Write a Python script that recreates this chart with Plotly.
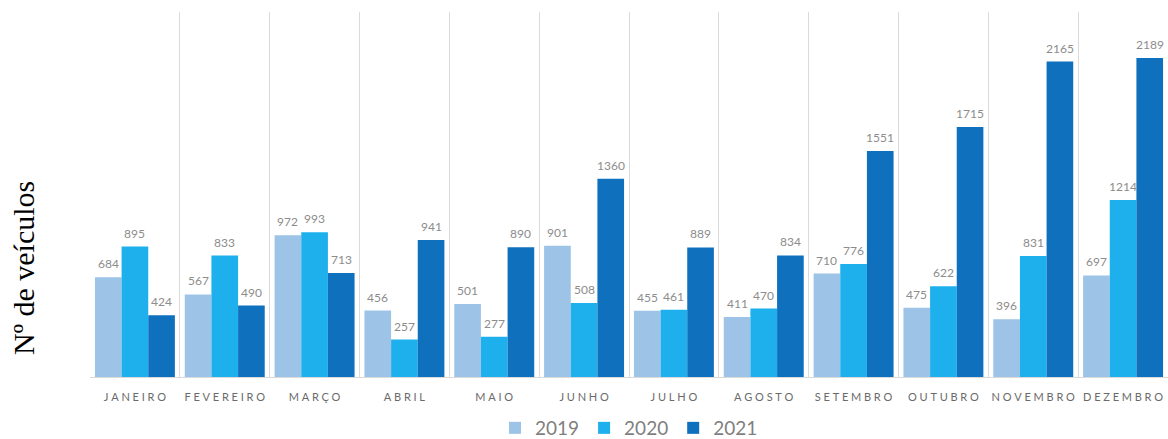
import plotly.graph_objects as go

# Monthly vehicle counts per year
months = ["JANEIRO", "FEVEREIRO", "MARÇO", "ABRIL", "MAIO", "JUNHO",
          "JULHO", "AGOSTO", "SETEMBRO", "OUTUBRO", "NOVEMBRO", "DEZEMBRO"]
v2019 = [684, 567, 972, 456, 501, 901, 455, 411, 710, 475, 396, 697]
v2020 = [895, 833, 993, 257, 277, 508, 461, 470, 776, 622, 831, 1214]
v2021 = [424, 490, 713, 941, 890, 1360, 889, 834, 1551, 1715, 2165, 2189]

series = [("2019", v2019, "#9DC3E6"),
          ("2020", v2020, "#1DB0EC"),
          ("2021", v2021, "#0F71BE")]

W, H = 1168, 439
ML, MR, MT, MB = 90, 0, 12, 62
BARGAP = 0.11

# spaced-out month labels
spaced = ["\u2005".join(m) for m in months]

fig = go.Figure()
for name, vals, color in series:
    fig.add_trace(go.Bar(
        x=spaced, y=vals, name=name,
        marker=dict(color=color, line=dict(width=0)),
    ))

# value labels above each bar, offset sideways to its slot in the group
slot_px = (W - ML - MR) / len(months) * (1 - BARGAP) / len(series)
annotations = []
for i, (name, vals, color) in enumerate(series):
    for m, v in zip(spaced, vals):
        annotations.append(dict(
            x=m, y=v, xref="x", yref="y", text=str(v), showarrow=False,
            xanchor="center", yanchor="bottom",
            xshift=(i - 1) * slot_px, yshift=4,
            font=dict(family="Lato", size=12, color="#8C8C8C"),
        ))

annotations.append(dict(
    text="Nº de veículos", textangle=-90,
    xref="paper", yref="paper",
    x=-67 / (W - ML - MR), y=(H - MB - 268) / (H - MB - MT),
    xanchor="center", yanchor="middle", showarrow=False,
    font=dict(family="Liberation Serif", size=30, color="black"),
))

fig.update_layout(
    width=W, height=H,
    margin=dict(l=ML, r=MR, t=MT, b=MB, autoexpand=False),
    paper_bgcolor="white", plot_bgcolor="white",
    barmode="group", bargap=BARGAP, bargroupgap=0,
    font=dict(family="Lato", color="#7F7F7F"),
    legend=dict(orientation="h", x=0.5, xanchor="center",
                y=(H - MB - 428) / (H - MB - MT), yanchor="middle",
                font=dict(family="Lato", size=19, color="#7F7F7F"),
                itemwidth=30, traceorder="normal"),
    xaxis=dict(type="category", tickson="boundaries", showgrid=True,
               gridcolor="#DADADA", gridwidth=1, ticks="",
               showline=True, linecolor="#DADADA", linewidth=1,
               ticklabelstandoff=10, tickangle=0,
               tickfont=dict(family="Lato", size=11, color="#6A6A6A"),
               range=[-0.5, 11.5]),
    yaxis=dict(range=[0, 2505], showgrid=False, showticklabels=False,
               zeroline=False, showline=False, ticks=""),
    annotations=annotations,
)

fig.write_html("out.html")
